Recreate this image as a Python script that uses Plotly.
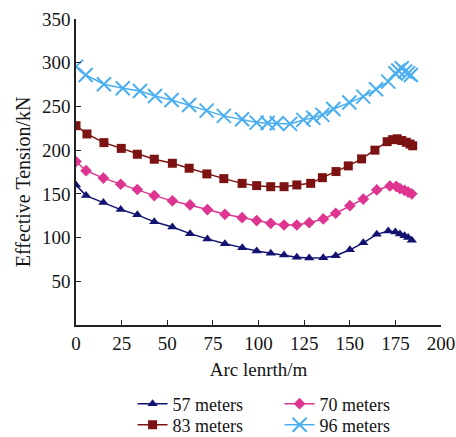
import plotly.graph_objects as go

# Arc length (m) and effective tension (kN) for each water depth
x57 = [0, 5.5, 15, 24.5, 33.6, 42.9, 52.8, 62.5, 72, 81.6, 91.1, 99, 106.7, 114, 121, 127.8, 135.5, 142.3, 150.1, 157.4, 164.8, 171.1, 175, 177.5, 180, 182, 184]
y57 = [160, 148, 140, 132, 126, 118, 112, 104.5, 98.5, 93, 88.5, 84.7, 82, 80, 77.4, 76.7, 77, 79.3, 86, 94, 103.7, 107.5, 106.5, 104, 102, 100, 97]

x70 = [0, 5.5, 15, 24.5, 33.6, 42.9, 52.8, 62.5, 72, 81.6, 91, 99, 106.7, 114, 121, 127.8, 135.5, 142.3, 150.1, 157.4, 164.8, 172, 175.5, 177.5, 180, 182, 184]
y70 = [187, 176.5, 168, 161, 155, 148, 142, 137.3, 132, 126.6, 122.8, 119.4, 116.3, 114.4, 114.4, 117, 121.3, 127.8, 136.5, 144, 154.5, 159, 158.5, 156, 154, 152, 150]

x83 = [0, 6, 15.3, 24.8, 33.6, 42.9, 52.8, 62, 71.7, 81, 91, 99, 106.7, 114, 121, 128.6, 135, 142.5, 149.2, 156.5, 163.8, 170.5, 173.5, 176, 178.5, 181, 183, 184.5]
y83 = [228, 218.5, 208.6, 202, 195.3, 189.6, 185, 179.3, 172.8, 167.4, 162, 159.4, 158.2, 158.2, 160.2, 162, 168.5, 175.5, 182, 190, 200, 209.7, 212, 213, 211, 209, 207, 205]

x96 = [0, 5.3, 15.3, 25.6, 35, 43.3, 52.4, 62, 71.6, 81, 91, 99, 105, 110, 117.3, 124.6, 130, 135, 141, 149.8, 157.4, 164.4, 171.1, 175, 176.6, 178.5, 180.3, 182, 183.5]
y96 = [295.5, 286, 275.4, 270.8, 267.7, 262, 257.4, 251.7, 245.2, 239.2, 235.3, 231.5, 231, 230.7, 230, 234.6, 237, 240.3, 247, 254.4, 261.2, 269.6, 278.4, 288, 291, 293.6, 290, 288, 286]

names = ["57 meters", "70 meters", "83 meters", "96 meters"]
xticks = [0, 25, 50, 75, 100, 125, 150, 175, 200]
yticks = [50, 100, 150, 200, 250, 300, 350]

FONT = "Liberation Serif, Times New Roman, serif"
TXT = "#151515"

fig = go.Figure()
fig.add_trace(go.Scatter(x=x57, y=y57, name=names[0], mode="lines+markers", legend="legend",
                         line=dict(color="#121270", width=1.5),
                         marker=dict(symbol="triangle-up", size=9, color="#121270")))
fig.add_trace(go.Scatter(x=x70, y=y70, name=names[1], mode="lines+markers", legend="legend",
                         line=dict(color="#de3690", width=1.5),
                         marker=dict(symbol="diamond", size=9, color="#de3690")))
fig.add_trace(go.Scatter(x=x83, y=y83, name=names[2], mode="lines+markers", legend="legend2",
                         line=dict(color="#7d1212", width=1.5),
                         marker=dict(symbol="square", size=9, color="#7d1212")))
fig.add_trace(go.Scatter(x=x96, y=y96, name=names[3], mode="lines+markers", legend="legend2",
                         line=dict(color="#4aaef0", width=1.5),
                         marker=dict(symbol="x-thin", size=14, color="#4aaef0",
                                     line=dict(color="#4aaef0", width=2))))

leg_common = dict(orientation="h", x=0.155, xanchor="left", yanchor="middle",
                  font=dict(family=FONT, size=18, color=TXT),
                  entrywidth=102, traceorder="normal", tracegroupgap=0,
                  itemwidth=30, bgcolor="rgba(0,0,0,0)")

fig.update_layout(
    width=456, height=437,
    margin=dict(l=76, r=15, t=19, b=112, autoexpand=False),
    paper_bgcolor="white", plot_bgcolor="white",
    font=dict(family=FONT, size=19, color=TXT),
    showlegend=True,
    legend=dict(y=-0.258, **leg_common),
    legend2=dict(y=-0.327, **leg_common),
    annotations=[dict(text="Effective Tension/kN", textangle=-90,
                      xref="paper", yref="paper", x=-0.145, y=0.467,
                      xanchor="center", yanchor="middle", showarrow=False,
                      font=dict(family=FONT, size=20, color=TXT))],
)
fig.update_xaxes(range=[0, 200], tickvals=xticks, ticks="inside", ticklen=5,
                 showline=True, linecolor="#222", linewidth=1.5, tickcolor="#222",
                 showgrid=False, zeroline=False, tickfont=dict(size=19),
                 title=dict(text="Arc lenrth/m", standoff=10, font=dict(family=FONT, size=19)))
fig.update_yaxes(range=[0, 350], tickvals=yticks, ticks="inside", ticklen=5,
                 showline=True, linecolor="#222", linewidth=1.5, tickcolor="#222",
                 showgrid=False, zeroline=False, tickfont=dict(size=19))

fig.write_html("out.html")
